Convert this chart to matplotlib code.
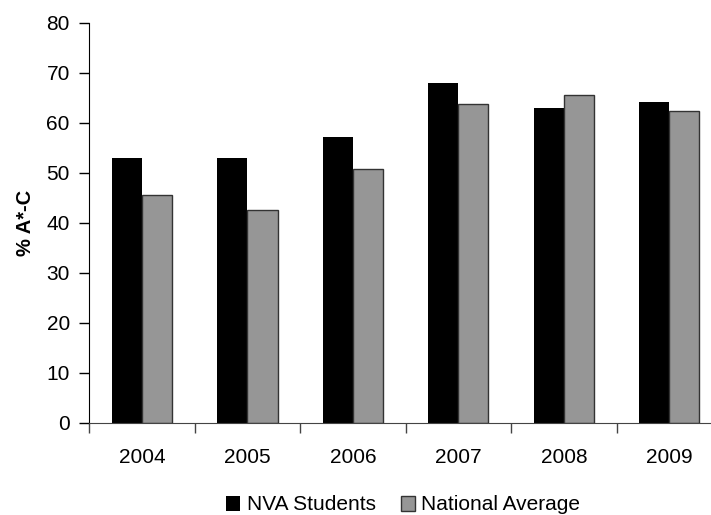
import numpy as np
import matplotlib.pyplot as plt

plt.rcParams['font.family'] = ['Liberation Sans', 'DejaVu Sans']

years = ['2004', '2005', '2006', '2007', '2008', '2009']
nva_students = [52.9, 52.9, 57.1, 67.9, 62.9, 64.1]
national_avg = [45.6, 42.6, 50.7, 63.7, 65.6, 62.3]

x = np.arange(len(years))
w = 0.285

fig = plt.figure(figsize=(7.11, 5.15), dpi=100)
ax = fig.add_axes([0.1256, 0.1792, 1.0155 - 0.1256, 0.956 - 0.1792])

ax.bar(x - w / 2, nva_students, w, color='black', label='NVA Students', zorder=2)
ax.bar(x + w / 2, national_avg, w, color='#969696', edgecolor='#333333',
       linewidth=1.0, label='National Average', zorder=2)

ax.set_xlim(-0.5, len(years) - 0.5)
ax.set_ylim(0, 80)
ax.set_yticks(range(0, 81, 10))
ax.tick_params(axis='y', direction='out', length=7, width=1, labelsize=15, pad=7)

# category labels centred, tick marks between categories
ax.set_xticks(x)
ax.set_xticklabels(years)
ax.tick_params(axis='x', which='major', length=0, labelsize=15, pad=18)
ax.set_xticks(np.arange(-0.5, len(years)), minor=True)
ax.tick_params(axis='x', which='minor', direction='out', length=7, width=1,
               color='#444444')

for s in ['top', 'right']:
    ax.spines[s].set_visible(False)
ax.spines['left'].set_color('black')
ax.spines['bottom'].set_color('#444444')

ax.set_ylabel('% A*-C', fontsize=14.5, fontweight='bold', labelpad=8)

fig.legend(loc='center', bbox_to_anchor=(403 / 711, 1 - 505 / 515), ncol=2,
           frameon=False, fontsize=15, handlelength=0.7, handleheight=0.7,
           handletextpad=0.3, columnspacing=1.2)

fig.savefig('out.png', dpi=100)
